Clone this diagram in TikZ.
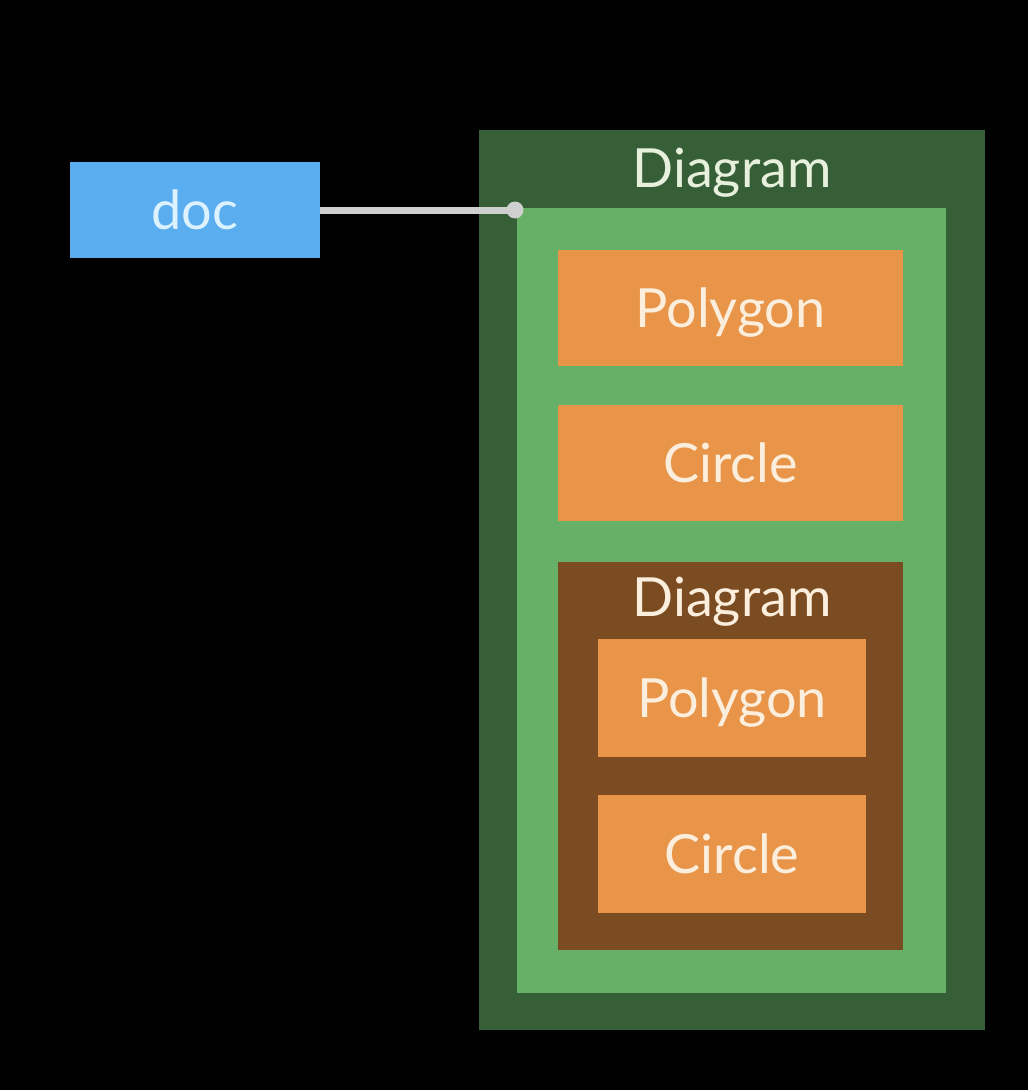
\documentclass[tikz,border=0pt]{standalone}
\usepackage{fontspec}
\setmainfont{Lato}
\definecolor{docblue}{HTML}{5AADEF}
\definecolor{darkg}{HTML}{365F37}
\definecolor{lightg}{HTML}{66B068}
\definecolor{orng}{HTML}{E8954A}
\definecolor{brwn}{HTML}{7B4C22}
\definecolor{txtg}{HTML}{E6F0DC}
\definecolor{txto}{HTML}{FBEEDD}
\definecolor{txtb}{HTML}{DDF2FF}
\definecolor{linec}{HTML}{CFCFCF}
\tikzset{
  box/.style={rectangle, inner sep=0pt, outer sep=0pt, draw=none},
  bigfont/.style={font=\fontsize{54}{64}\selectfont, text height=39pt, text depth=0pt},
  lbl/.style={inner sep=0pt, bigfont},
  shapebox/.style={box, fill=orng, minimum width=345pt, minimum height=116pt, text=txto, bigfont},
  innerbox/.style={box, fill=orng, minimum width=268pt, minimum height=118pt, text=txto, bigfont},
}
\begin{document}
\begin{tikzpicture}[x=1pt,y=-1pt]
\fill[black] (0,0) rectangle (1028,1090);
\useasboundingbox (0,0) rectangle (1028,1090);
\node[box, fill=darkg, minimum width=506pt, minimum height=900pt] (outer) at (732,580) {};
\node[lbl, text=txtg] (t1) at (732,168) {Diagram};
\node[box, fill=lightg, minimum width=429pt, minimum height=785pt] (inner) at (731.5,600.5) {};
\node[shapebox] (poly1) at (730.5,308) {Polygon};
\node[shapebox] (circ1) at (730.5,463) {Circle};
\node[box, fill=brwn, minimum width=345pt, minimum height=388pt] (sub) at (730.5,756) {};
\node[lbl, text=txto] (t2) at (732,597) {Diagram};
\node[innerbox] (poly2) at (732,698) {Polygon};
\node[innerbox] (circ2) at (732,854) {Circle};
\node[box, fill=docblue, minimum width=250pt, minimum height=96pt, text=txtb, font=\fontsize{54}{64}\selectfont] (doc) at (195,210) {doc};
\node[circle, fill=linec, minimum size=17pt, inner sep=0pt] (dot) at (515,210) {};
\draw[linec, line width=7pt] (doc.east) -- (dot.center);
\end{tikzpicture}
\end{document}
